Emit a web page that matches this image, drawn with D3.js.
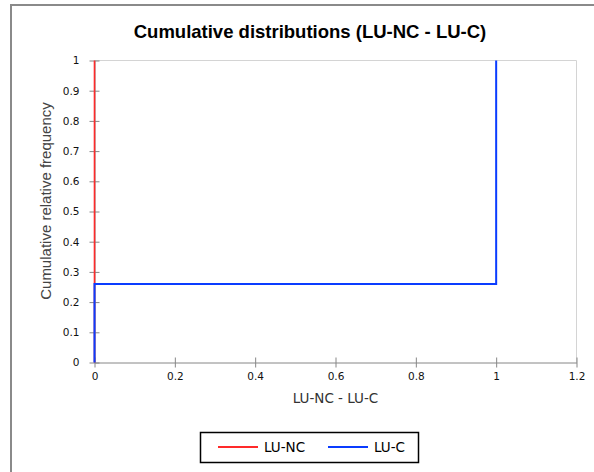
<!DOCTYPE html>
<html>
<head>
<meta charset="utf-8">
<script src="https://cdn.jsdelivr.net/npm/d3@7"></script>
<style>
  html, body { margin: 0; padding: 0; background: #fff; }
  svg { display: block; }
</style>
</head>
<body>
<svg id="chart" width="594" height="472"></svg>
<script>
// Step-function cumulative distributions of the difference LU-NC - LU-C
const seriesNames = ["LU-NC", "LU-C"];
const seriesColors = ["#ff2a2a", "#0a3cff"];
const luNcX = [0, 0];
const luNcY = [0, 1];
const luCX = [0, 0, 1, 1];
const luCY = [0, 0.26, 0.26, 1];
const xTicks = [0, 0.2, 0.4, 0.6, 0.8, 1, 1.2];
const yTicks = [0, 0.1, 0.2, 0.3, 0.4, 0.5, 0.6, 0.7, 0.8, 0.9, 1];
const xTickLabels = ["0", "0.2", "0.4", "0.6", "0.8", "1", "1.2"];
const yTickLabels = ["0", "0.1", "0.2", "0.3", "0.4", "0.5", "0.6", "0.7", "0.8", "0.9", "1"];

const svg = d3.select("#chart");

// outer chart frame (left and top edges fall inside the page)
svg.append("rect")
  .attr("x", 11).attr("y", 5)
  .attr("width", 620).attr("height", 500)
  .attr("fill", "#fff")
  .attr("stroke", "#8a8a8a")
  .attr("stroke-width", 2);

const plotLeft = 94.5, plotRight = 576.5, plotTop = 60.5, plotBottom = 362.5;
const x = d3.scaleLinear().domain([0, 1.2]).range([plotLeft, plotRight]);
const y = d3.scaleLinear().domain([0, 1]).range([plotBottom, plotTop]);

// plot area border (top and right)
svg.append("path")
  .attr("d", `M${plotLeft},${plotTop}H${plotRight}V${plotBottom}`)
  .attr("fill", "none")
  .attr("stroke", "#d4d4d4")
  .attr("stroke-width", 1);

// title
svg.append("text")
  .attr("x", 310).attr("y", 38)
  .attr("text-anchor", "middle")
  .attr("font-family", "Liberation Sans, Arial, sans-serif")
  .attr("font-weight", "bold")
  .attr("font-size", 18.5)
  .attr("fill", "#000")
  .text("Cumulative distributions (LU-NC - LU-C)");

// axes
const xAxis = d3.axisBottom(x)
  .tickValues(xTicks)
  .tickFormat((d, i) => xTickLabels[i])
  .tickSizeInner(5).tickSizeOuter(0).tickPadding(5);
const yAxis = d3.axisLeft(y)
  .tickValues(yTicks)
  .tickFormat((d, i) => yTickLabels[i])
  .tickSizeInner(5).tickSizeOuter(0).tickPadding(10);

const gx = svg.append("g").attr("transform", `translate(0,${plotBottom})`).call(xAxis);
const gy = svg.append("g").attr("transform", `translate(${plotLeft},0)`).call(yAxis);

[gx, gy].forEach(g => {
  g.select(".domain").attr("stroke", "#868686");
  g.selectAll(".tick line").attr("stroke", "#868686");
  g.selectAll(".tick text")
    .attr("font-family", "DejaVu Sans, Verdana, sans-serif")
    .attr("font-size", 10.5)
    .attr("fill", "#111");
});
// ticks cross the axis line
gx.selectAll(".tick line").attr("y1", -5);
gy.selectAll(".tick line").attr("x1", 5);

// axis titles
svg.append("text")
  .attr("x", (plotLeft + plotRight) / 2).attr("y", 403)
  .attr("text-anchor", "middle")
  .attr("font-family", "DejaVu Sans, sans-serif")
  .attr("font-size", 13.5)
  .attr("fill", "#333")
  .text("LU-NC - LU-C");

svg.append("text")
  .attr("transform", `translate(51,201) rotate(-90)`)
  .attr("text-anchor", "middle")
  .attr("font-family", "Liberation Sans, Arial, sans-serif")
  .attr("font-size", 15)
  .attr("fill", "#444")
  .text("Cumulative relative frequency");

// series
const line = d3.line().x(d => x(d[0])).y(d => y(d[1]));
const series = [
  { name: seriesNames[0], color: seriesColors[0], pts: luNcX.map((v, i) => [v, luNcY[i]]), w: 1.6 },
  { name: seriesNames[1], color: seriesColors[1], pts: luCX.map((v, i) => [v, luCY[i]]), w: 2 }
];
svg.append("g").selectAll("path")
  .data(series)
  .join("path")
  .attr("d", d => line(d.pts))
  .attr("fill", "none")
  .attr("stroke", d => d.color)
  .attr("stroke-width", d => d.w);

// legend
const lg = svg.append("g");
lg.append("rect")
  .attr("x", 200.5).attr("y", 432.5)
  .attr("width", 218).attr("height", 30)
  .attr("fill", "#fff")
  .attr("stroke", "#000")
  .attr("stroke-width", 1.5);
const legendX = [218, 328];
series.forEach((s, i) => {
  lg.append("line")
    .attr("x1", legendX[i]).attr("x2", legendX[i] + 40)
    .attr("y1", 447).attr("y2", 447)
    .attr("stroke", s.color).attr("stroke-width", 2);
  lg.append("text")
    .attr("x", legendX[i] + 46).attr("y", 452)
    .attr("font-family", "DejaVu Sans, Tahoma, sans-serif")
    .attr("font-size", 13.5)
    .attr("fill", "#000")
    .text(s.name);
});
</script>
</body>
</html>
